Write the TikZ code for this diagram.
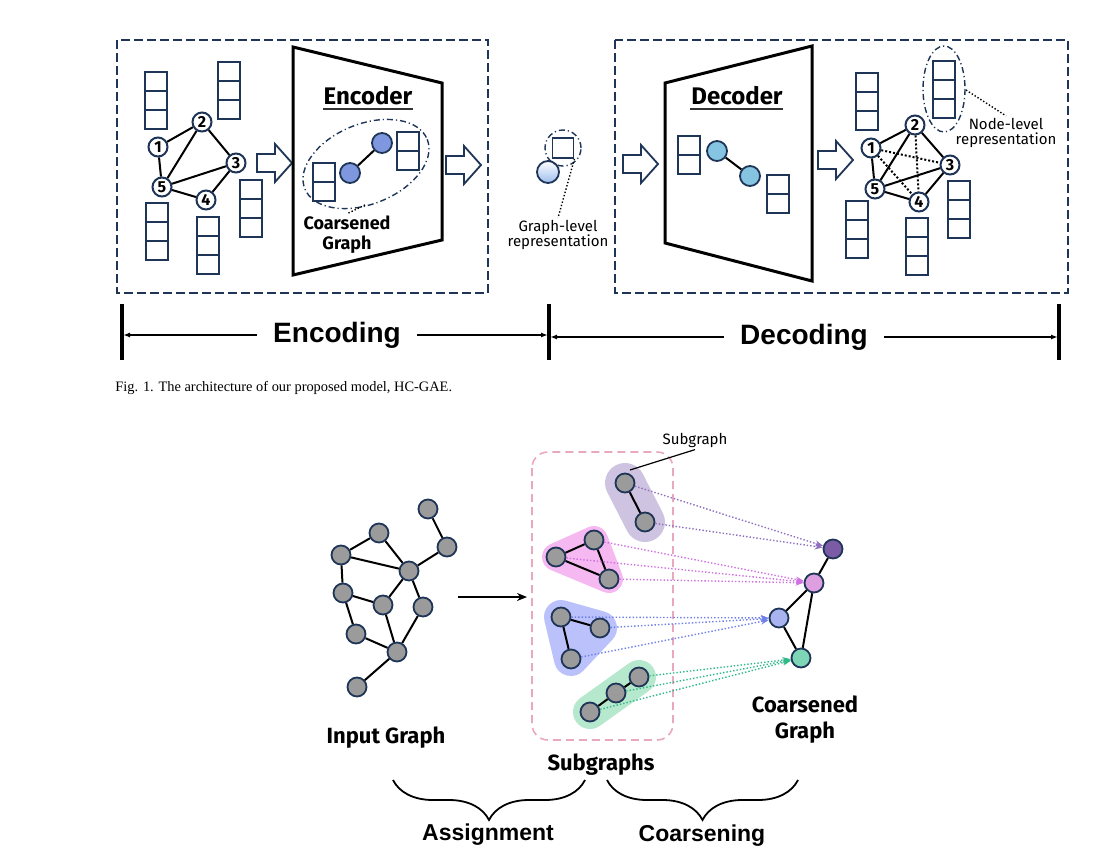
\documentclass[tikz,border=0pt]{standalone}
\usepackage{fontspec}
\setmainfont{Liberation Serif}
\newfontfamily\comicfont{Fira Sans}
\newfontfamily\arialfont{Liberation Sans}
\usetikzlibrary{arrows.meta,decorations.pathreplacing,backgrounds}

\definecolor{navy}{HTML}{1F3557}
\definecolor{grayfill}{HTML}{9B9B9B}
\definecolor{encblue}{HTML}{7E97DE}
\definecolor{decblue}{HTML}{86C5E2}
\definecolor{glblue}{HTML}{9DBDEE}
\definecolor{cpurple}{HTML}{7B5BA6}
\definecolor{cpink}{HTML}{DE9FE0}
\definecolor{cblue}{HTML}{A8B3F0}
\definecolor{cgreen}{HTML}{7ED6B6}
\definecolor{apurple}{HTML}{8E6FC0}
\definecolor{apink}{HTML}{CF72E0}
\definecolor{ablue}{HTML}{6F80E8}
\definecolor{agreen}{HTML}{2FB888}
\definecolor{bpurple}{HTML}{CEC3E0}
\definecolor{bpink}{HTML}{F5B8F1}
\definecolor{bblue}{HTML}{BBC2FB}
\definecolor{bgreen}{HTML}{B5E8CC}
\definecolor{dashpink}{HTML}{E8A8C0}

\newcommand{\featcol}[3]{%
  \foreach \k in {1,...,#3}{\draw[cellbox] (#1,{#2+(\k-1)*19}) rectangle ++(22,19);}}

\tikzset{
  gnode/.style={circle, draw=navy, line width=1pt, fill=white, inner sep=0pt,
    minimum size=9.5pt, font=\comicfont\bfseries\fontsize{8}{8}\selectfont},
  graynode/.style={circle, draw=navy, line width=0.9pt, fill=grayfill,
    inner sep=0pt, minimum size=9.5pt},
  cnode/.style={circle, draw=navy, line width=0.9pt, inner sep=0pt, minimum size=#1},
  cellbox/.style={draw=navy, line width=0.9pt, fill=white},
  framebox/.style={draw=navy, line width=1.3pt, dash pattern=on 4.5pt off 2pt},
  link/.style={line width=1pt},
  hidden link/.style={line width=1pt, densely dotted},
  ring/.style={draw=navy, line width=0.7pt, dash pattern=on 3pt off 1.5pt on 0.6pt off 1.5pt},
  dotarrow/.style={densely dotted, line width=0.7pt, -{Stealth[length=4pt,width=3pt]}},
  measure/.style={line width=0.8pt, -{Latex[length=3.5pt,width=2.5pt]}},
  blockarrow/.pic={\draw[navy, line width=0.9pt, fill=white]
    (0,-9) -- (18,-9) -- (18,-19) -- (35,0) -- (18,19) -- (18,9) -- (0,9) -- cycle;},
  comic/.style args={#1/#2}{font=\comicfont\fontsize{#1}{#2}\selectfont, align=center, inner sep=1pt},
  comicbold/.style args={#1/#2}{font=\comicfont\bfseries\fontsize{#1}{#2}\selectfont, align=center, inner sep=1pt},
  arialbold/.style={font=\arialfont\bfseries\fontsize{#1}{#1}\selectfont, inner sep=1pt}
}

\begin{document}
\begin{tikzpicture}[x=0.5pt,y=-0.5pt]
\useasboundingbox (0,0) rectangle (1113,851);

% ---- encoding part ----
\draw[framebox] (117,40) rectangle (488,293);
\featcol{145}{72}{3}
\featcol{218}{62}{3}
\featcol{240}{180}{3}
\featcol{146}{203}{3}
\featcol{197}{217}{3}
\node[gnode](e1) at (158,147) {1};
\node[gnode](e2) at (202,122) {2};
\node[gnode](e3) at (236,163) {3};
\node[gnode](e4) at (206,200) {4};
\node[gnode](e5) at (162,187) {5};
\draw[link] (e1) -- (e2);
\draw[link] (e1) -- (e5);
\draw[link] (e2) -- (e5);
\draw[link] (e2) -- (e3);
\draw[link] (e3) -- (e5);
\draw[link] (e3) -- (e4);
\draw[link] (e4) -- (e5);
\pic at (257,163) {blockarrow};

\draw[line width=1.5pt] (293,47) -- (442,83) -- (442,240) -- (293,275) -- cycle;
\node[comicbold=12/14](enc) at (368,96) {Encoder};
\draw[line width=0.8pt, black!80] (323,109) -- (413,109);
\draw[ring, rotate around={22:(366,164)}] (366,164) ellipse [x radius=66, y radius=40];
\coordinate (encring) at (365,205);
\featcol{313}{163}{2}
\featcol{397}{132}{2}
\node[cnode=10pt, fill=encblue](c1) at (350,173) {};
\node[cnode=10pt, fill=encblue](c2) at (382,143) {};
\draw[link] (c1) -- (c2);
\node[comicbold=9/10](cgtext) at (347,235) {Coarsened\\Graph};
\draw[densely dotted, line width=0.7pt] (encring) -- (cgtext.north);
\pic at (446,165) {blockarrow};

% ---- graph-level representation ----
\node[cnode=11pt, top color=white, bottom color=glblue](gl) at (548,172) {};
\node[draw=navy, line width=0.9pt, fill=white, minimum width=10.5pt, minimum height=10pt,
  inner sep=0pt](glvec) at (563,148) {};
\node[circle, ring, minimum size=18pt](glring) at (563,148) {};
\node[comic=7.5/7.5](gltext) at (558,235) {Graph-level\\representation};
\draw[densely dotted, line width=0.7pt] (glvec.south east) -- (gltext.north);

% ---- decoding part ----
\draw[framebox] (615,40) rectangle (1068,293);
\pic at (623,164) {blockarrow};
\draw[line width=1.5pt] (665,83) -- (812,46) -- (812,281) -- (665,243) -- cycle;
\node[comicbold=12/14](dec) at (737,96) {Decoder};
\draw[line width=0.8pt, black!80] (690,109) -- (783,109);
\featcol{678}{136}{2}
\featcol{767}{175}{2}
\node[cnode=10pt, fill=decblue](c3) at (717,151) {};
\node[cnode=10pt, fill=decblue](c4) at (750,176) {};
\draw[link] (c3) -- (c4);
\pic at (818,160) {blockarrow};

\featcol{856}{73}{3}
\featcol{933}{61}{3}
\featcol{948}{181}{3}
\featcol{846}{201}{3}
\featcol{906}{218}{3}
\draw[ring] (944,89) ellipse [x radius=21, y radius=43];
\coordinate (nlring) at (966,90);
\node[gnode](d1) at (871,148) {1};
\node[gnode](d2) at (915,125) {2};
\node[gnode](d3) at (950,165) {3};
\node[gnode](d4) at (919,202) {4};
\node[gnode](d5) at (875,189) {5};
\draw[link] (d1) -- (d2);
\draw[link] (d1) -- (d5);
\draw[link] (d2) -- (d5);
\draw[link] (d2) -- (d3);
\draw[link] (d3) -- (d5);
\draw[link] (d3) -- (d4);
\draw[link] (d4) -- (d5);
\draw[hidden link] (d1) -- (d3);
\draw[hidden link] (d1) -- (d4);
\draw[hidden link] (d2) -- (d4);
\node[comic=7.5/7.5](nltext) at (1006,133) {Node-level\\representation};
\draw[densely dotted, line width=0.7pt] (nlring) -- (nltext.north);

% ---- encoding / decoding axis ----
\draw[line width=2pt] (122,304) -- (122,360);
\draw[line width=2pt] (549,304) -- (549,360);
\draw[line width=2pt] (1059,304) -- (1059,360);
\coordinate (barL) at (123,335);
\coordinate (barM1) at (548,335);
\coordinate (barM2) at (550,337);
\coordinate (barR) at (1058,337);
\node[arialbold=14, inner xsep=8pt](enctext) at (337,335) {Encoding};
\node[arialbold=14, inner xsep=8pt](dectext) at (804,337) {Decoding};
\draw[measure] (enctext) -- (barL);
\draw[measure] (enctext) -- (barM1);
\draw[measure] (dectext) -- (barM2);
\draw[measure] (dectext) -- (barR);

\node[anchor=west, font=\fontsize{7.2}{7.2}\selectfont, inner sep=0pt](caption) at (115,388)
  {Fig. 1. The architecture of our proposed model, HC-GAE.};

% ---- input graph ----
\node[graynode](in1) at (428,509) {};
\node[graynode](in2) at (447,547) {};
\node[graynode](in3) at (379,533) {};
\node[graynode](in4) at (341,555) {};
\node[graynode](in5) at (409,571) {};
\node[graynode](in6) at (343,593) {};
\node[graynode](in7) at (383,605) {};
\node[graynode](in8) at (423,607) {};
\node[graynode](in9) at (356,634) {};
\node[graynode](in10) at (397,652) {};
\node[graynode](in11) at (357,687) {};
\foreach \a/\b in {in1/in2, in2/in5, in3/in4, in3/in5, in4/in5, in4/in6, in6/in7,
  in7/in5, in5/in8, in6/in9, in9/in10, in7/in10, in8/in10, in10/in11}
  \draw[link] (\a) -- (\b);
\node[comicbold=11/13](intext) at (386,738) {Input Graph};
\coordinate (inarrow) at (458,597);
\coordinate (subarrow) at (527,597);
\draw[line width=1.1pt, -{Stealth[length=5pt,width=4pt]}] (inarrow) -- (subarrow);

% ---- subgraphs ----
\node[graynode](sa1) at (625,483) {};
\node[graynode](sa2) at (645,522) {};
\node[graynode](sb1) at (594,540) {};
\node[graynode](sb2) at (556,557) {};
\node[graynode](sb3) at (609,579) {};
\node[graynode](sc1) at (561,617) {};
\node[graynode](sc2) at (600,628) {};
\node[graynode](sc3) at (571,659) {};
\node[graynode](sd1) at (639,677) {};
\node[graynode](sd2) at (616,693) {};
\node[graynode](sd3) at (590,712) {};
\draw[link] (sa1) -- (sa2);
\draw[link] (sb1) -- (sb2);
\draw[link] (sb1) -- (sb3);
\draw[link] (sb2) -- (sb3);
\draw[link] (sc1) -- (sc2);
\draw[link] (sc1) -- (sc3);
\draw[link] (sd1) -- (sd2);
\draw[link] (sd2) -- (sd3);
\begin{scope}[on background layer]
  \draw[bpurple, line width=20pt, line cap=round] (sa1.center) -- (sa2.center);
  \filldraw[bpink, line width=14pt, line join=round] (sb1.center) -- (sb2.center) -- (sb3.center) -- cycle;
  \filldraw[bblue, line width=17pt, line join=round] (sc1.center) -- (sc2.center) -- (sc3.center) -- cycle;
  \draw[bgreen, line width=17pt, line cap=round] (sd1.center) -- (sd3.center);
  \draw[dashpink, line width=0.8pt, dash pattern=on 4pt off 2.5pt, rounded corners=8pt]
    (532,452) rectangle (673,740);
\end{scope}
\node[comic=7.5/7.5](sublabel) at (695,440) {Subgraph};
\coordinate (subtip) at (630,470);
\draw[line width=0.6pt] (sublabel.south) -- (subtip);
\node[comicbold=11/13](sgtext) at (601,765) {Subgraphs};

% ---- coarsened graph ----
\node[cnode=9.5pt, fill=cpurple](ca) at (833,549) {};
\node[cnode=9.5pt, fill=cpink](cb) at (814,583) {};
\node[cnode=9.5pt, fill=cblue](cc) at (779,618) {};
\node[cnode=9.5pt, fill=cgreen](cd) at (801,658) {};
\draw[link] (ca) -- (cb);
\draw[link] (cb) -- (cc);
\draw[link] (cb) -- (cd);
\draw[link] (cc) -- (cd);
\foreach \s in {sa1, sa2} \draw[dotarrow, apurple] (\s) -- (ca);
\foreach \s in {sb1, sb2, sb3} \draw[dotarrow, apink] (\s) -- (cb);
\foreach \s in {sc1, sc2, sc3} \draw[dotarrow, ablue] (\s) -- (cc);
\foreach \s in {sd1, sd2, sd3} \draw[dotarrow, agreen] (\s) -- (cd);
\node[comicbold=11/13](cgtext2) at (805,720) {Coarsened\\Graph};

% ---- braces ----
\draw[line width=0.9pt, decorate, decoration={brace, amplitude=20pt, mirror}] (393,780) -- (585,780);
\draw[line width=0.9pt, decorate, decoration={brace, amplitude=20pt, mirror}] (607,780) -- (798,780);
\node[arialbold=11.5](assign) at (488,835) {Assignment};
\node[arialbold=11.5](coarsen) at (702,836) {Coarsening};
\end{tikzpicture}
\end{document}
